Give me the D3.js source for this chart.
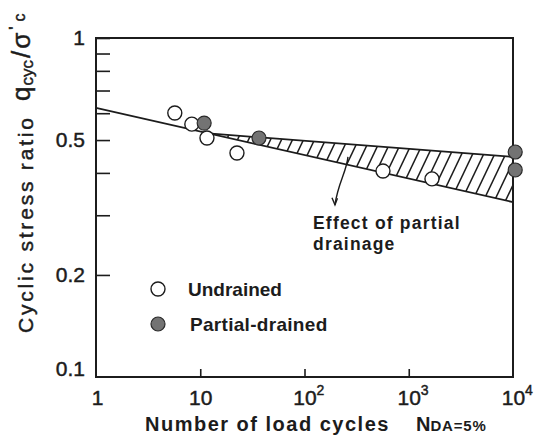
<!DOCTYPE html>
<html>
<head>
<meta charset="utf-8">
<script src="https://cdn.jsdelivr.net/npm/d3@7"></script>
<style>
  body { margin: 0; background: #fff; }
  svg { display: block; }
  text { font-family: "Liberation Sans", Arial, sans-serif; fill: #1c1c1c; }
  .heavy { stroke: #1c1c1c; stroke-width: 0.45px; }
</style>
</head>
<body>
<script>
// data
var undrainedN = [5.7, 8.3, 11.6, 22.5, 566, 1670];
var undrainedR = [0.601, 0.557, 0.507, 0.458, 0.405, 0.384];
var partialN = [10.9, 36.6, 10500, 10500];
var partialR = [0.561, 0.507, 0.461, 0.408];

// fitted lines (undrained, partial-drained)
var undrainedLineN = [1, 10000];
var undrainedLineR = [0.622, 0.328];
var partialLineN = [12, 10000];
var partialLineR = [0.523, 0.446];

var xTicks = [1, 10, 100, 1000, 10000];
var xTickLabels = ["1", "10", "10|2", "10|3", "10|4"];
var yMinor = [0.2, 0.3, 0.4, 0.5, 0.6, 0.7, 0.8, 0.9];
var yLabeled = [0.1, 0.2, 0.5, 1];
var yTickLabels = ["0.1", "0.2", "0.5", "1"];

// annotation arrow, in data units
var arrowN = [261, 196];
var arrowR = [0.446, 0.322];

var W = 534, H = 441;
var margin = {top: 38, right: 21, bottom: 64, left: 96},
    width = W - margin.left - margin.right,
    height = H - margin.top - margin.bottom;

var svg = d3.select("body").append("svg")
    .attr("width", W)
    .attr("height", H);

var x = d3.scaleLog().domain([1, 10000]).range([margin.left, margin.left + width]);
var y = d3.scaleLog().domain([0.1, 1]).range([margin.top + height, margin.top]);

// value of a straight (log-log) line at N
function lineAt(N, ns, rs) {
  var t = (Math.log10(N) - Math.log10(ns[0])) / (Math.log10(ns[1]) - Math.log10(ns[0]));
  return Math.pow(10, Math.log10(rs[0]) + t * (Math.log10(rs[1]) - Math.log10(rs[0])));
}

// hatched area between the two lines
var nStart = partialLineN[0], nEnd = partialLineN[1];
var poly = [
  [x(nStart), y(partialLineR[0])],
  [x(nEnd), y(partialLineR[1])],
  [x(nEnd), y(lineAt(nEnd, undrainedLineN, undrainedLineR))],
  [x(nStart), y(lineAt(nStart, undrainedLineN, undrainedLineR))]
];
svg.append("clipPath").attr("id", "hatchClip")
  .append("polygon")
    .attr("points", poly.map(function(p) { return p.join(","); }).join(" "));

var yTop = d3.min(poly, function(p) { return p[1]; }) - 2,
    yBot = d3.max(poly, function(p) { return p[1]; }) + 2,
    slant = (yBot - yTop) / 2.1;
var hatchX = d3.range(x(nStart) - slant, x(nEnd) + 10, 11);
svg.append("g")
    .attr("clip-path", "url(#hatchClip)")
  .selectAll("line")
  .data(hatchX)
  .enter().append("line")
    .attr("x1", function(d) { return d; })
    .attr("y1", yBot)
    .attr("x2", function(d) { return d + slant; })
    .attr("y2", yTop)
    .style("stroke", "#1c1c1c")
    .style("stroke-width", 1.5);

// the two lines
var line = d3.line()
    .x(function(d) { return x(d[0]); })
    .y(function(d) { return y(d[1]); });

svg.append("path")
    .datum(d3.zip(undrainedLineN, undrainedLineR))
    .attr("d", line)
    .style("fill", "none").style("stroke", "#1c1c1c").style("stroke-width", 1.8);
svg.append("path")
    .datum(d3.zip(partialLineN, partialLineR))
    .attr("d", line)
    .style("fill", "none").style("stroke", "#1c1c1c").style("stroke-width", 1.8);

// axes: left with inward minor ticks
var yAxis = d3.axisLeft(y)
    .tickValues(yMinor.concat([1]))
    .tickSizeInner(-14).tickSizeOuter(0)
    .tickPadding(11)
    .tickFormat(function(d) {
      var i = yLabeled.indexOf(d);
      return i < 0 ? "" : yTickLabels[i];
    });
var gy = svg.append("g")
    .attr("transform", "translate(" + margin.left + ",0)")
    .call(yAxis);
gy.append("g").attr("class", "tick").attr("transform", "translate(0," + y(0.1) + ")")
  .append("text").attr("x", -11).attr("dy", "-0.05em").attr("text-anchor", "end").text(yTickLabels[0]);
gy.select(".domain").remove();
gy.selectAll("line").style("stroke", "#1c1c1c").style("stroke-width", 1.6);
gy.selectAll("text").style("font-size", "21px").attr("fill", "#1c1c1c").attr("class", "heavy");

var xAxis = d3.axisBottom(x)
    .tickValues(xTicks)
    .tickSizeInner(-8).tickSizeOuter(0)
    .tickPadding(13)
    .tickFormat("");
var gx = svg.append("g")
    .attr("transform", "translate(0," + (margin.top + height) + ")")
    .call(xAxis);
gx.select(".domain").remove();
gx.selectAll("line").style("stroke", "#1c1c1c").style("stroke-width", 1.6)
    .filter(function(d) { return d === 1 || d === 10000; }).remove();
gx.selectAll(".tick").each(function(d, i) {
  var parts = xTickLabels[i].split("|");
  var g = d3.select(this);
  g.append("text")
      .attr("class", "heavy")
      .attr("y", 28)
      .attr("x", d === 1 ? 1 : 0)
      .attr("text-anchor", "middle")
      .style("font-size", "21px")
      .text(parts[0]);
  if (parts[1]) {
    g.append("text")
        .attr("class", "heavy")
        .attr("x", 15.5)
        .attr("y", 18)
        .style("font-size", "14px")
        .text(parts[1]);
  }
});

// frame
svg.append("rect")
    .attr("x", margin.left).attr("y", margin.top)
    .attr("width", width).attr("height", height)
    .style("fill", "none").style("stroke", "#1c1c1c").style("stroke-width", 2);

// points
svg.append("g").selectAll("circle")
    .data(d3.zip(undrainedN, undrainedR))
  .enter().append("circle")
    .attr("cx", function(d) { return x(d[0]); })
    .attr("cy", function(d) { return y(d[1]); })
    .attr("r", 7)
    .style("fill", "#fff").style("stroke", "#1c1c1c").style("stroke-width", 1.4);

svg.append("g").selectAll("circle")
    .data(d3.zip(partialN, partialR))
  .enter().append("circle")
    .attr("cx", function(d) { return x(d[0]); })
    .attr("cy", function(d) { return y(d[1]); })
    .attr("r", 7)
    .style("fill", "#737373").style("stroke", "#2a2a2a").style("stroke-width", 1.2);

// arrow + note
var a0 = [x(arrowN[0]), y(arrowR[0])], a1 = [x(arrowN[1]), y(arrowR[1])];
svg.append("path")
    .attr("d", "M" + a0 + " C" + (a0[0] - 1) + "," + (a0[1] + 14) + " " +
               (a1[0] + 3) + "," + (a1[1] - 22) + " " + a1)
    .style("fill", "none").style("stroke", "#1c1c1c").style("stroke-width", 1.4);
svg.append("path")
    .attr("d", "M" + (a1[0] - 3) + "," + (a1[1] - 7) + " L" + a1 + " L" + (a1[0] + 2.5) + "," + (a1[1] - 6.5))
    .style("fill", "none").style("stroke", "#1c1c1c").style("stroke-width", 1.4);

var note = svg.append("g").style("font-size", "17.5px").style("font-weight", "bold").style("letter-spacing", "1.2px");
note.append("text").attr("x", 313).attr("y", 229).text("Effect of partial");
note.append("text").attr("x", 313).attr("y", 250).text("drainage");

// legend
var legend = svg.append("g");
legend.append("circle").attr("cx", 158).attr("cy", 289).attr("r", 7)
    .style("fill", "#fff").style("stroke", "#1c1c1c").style("stroke-width", 1.4);
legend.append("circle").attr("cx", 158).attr("cy", 324).attr("r", 7)
    .style("fill", "#737373").style("stroke", "#2a2a2a").style("stroke-width", 1.2);
legend.append("text").attr("x", 188).attr("y", 296)
    .style("font-size", "19px").style("font-weight", "bold").text("Undrained");
legend.append("text").attr("x", 190).attr("y", 331)
    .style("font-size", "19px").style("font-weight", "bold").style("letter-spacing", "0.3px").text("Partial-drained");

// axis titles
var xt = svg.append("text")
    .attr("x", 145).attr("y", 431)
    .style("font-size", "20px").style("font-weight", "bold").style("letter-spacing", "1.5px");
xt.append("tspan").text("Number of load cycles");
xt.append("tspan").attr("x", 416).style("letter-spacing", "0px").text("N");
xt.append("tspan").style("font-size", "15px").style("letter-spacing", "0.8px").text("DA=5%");

var yt = svg.append("text")
    .attr("class", "heavy")
    .attr("transform", "translate(33,333) rotate(-90)")
    .style("font-size", "21px").style("letter-spacing", "2.8px");
yt.append("tspan").text("Cyclic stress ratio");
var yq = svg.append("text")
    .attr("class", "heavy")
    .attr("transform", "translate(30,101) rotate(-90)")
    .style("font-size", "26px");
yq.append("tspan").text("q");
yq.append("tspan").attr("dy", 3).attr("dx", 1).style("font-size", "17px").text("cyc");
yq.append("tspan").attr("dy", -3).attr("dx", 2).text("/");
yq.append("tspan").attr("dx", 2).text("σ");
yq.append("tspan").attr("dx", 3).attr("dy", -9).style("font-size", "17px").text("'");
yq.append("tspan").attr("dx", 5).attr("dy", 4).style("font-size", "16px").text("c");
</script>
</body>
</html>
